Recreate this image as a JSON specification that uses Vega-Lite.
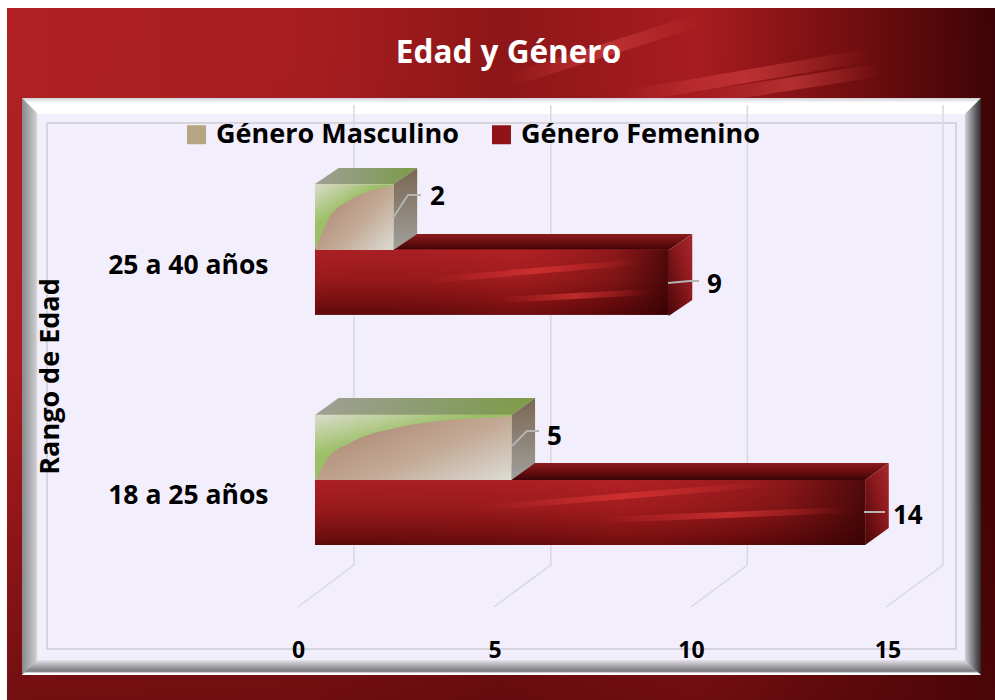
{
"$schema":"https://vega.github.io/schema/vega-lite/v6.json",
"width":995,"height":700,"padding":0,"autosize":{"type":"none"},
"background":"#ffffff",
"config":{"view":{"stroke":null},"font":"Open Sans"},
"title":{"text":"Edad y Género","font":"Open Sans","fontSize":31.5,"fontWeight":"bold","color":"#ffffff","anchor":"middle","offset":-94,"dx":11,"baseline":"alphabetic","zindex":1},
"datasets":{
"barras":[
{"rango":"25 a 40 años","genero":"Género Masculino","valor":2},
{"rango":"25 a 40 años","genero":"Género Femenino","valor":9},
{"rango":"18 a 25 años","genero":"Género Masculino","valor":5},
{"rango":"18 a 25 años","genero":"Género Femenino","valor":14}],
"rejilla":[
{"t":0,"x":0.99,"n":59.5,"o":1},{"t":0,"x":0.99,"n":13.5,"o":2},{"t":0,"x":-0.43,"n":9.3,"o":3},
{"t":5,"x":6.0,"n":59.5,"o":1},{"t":5,"x":6.0,"n":13.5,"o":2},{"t":5,"x":4.55,"n":9.3,"o":3},
{"t":10,"x":11.0,"n":59.5,"o":1},{"t":10,"x":11.0,"n":13.5,"o":2},{"t":10,"x":9.57,"n":9.3,"o":3},
{"t":15,"x":15.98,"n":59.5,"o":1},{"t":15,"x":15.98,"n":13.5,"o":2},{"t":15,"x":14.53,"n":9.3,"o":3}],
"techos":[
{"c":"m2","g":"m","x":0,"n":51.6,"n2":51.6},{"c":"m2","g":"m","x":0.6,"n":53.2,"n2":51.6},{"c":"m2","g":"m","x":2,"n":53.2,"n2":51.6},{"c":"m2","g":"m","x":2.6,"n":53.2,"n2":53.2},
{"c":"m5","g":"m","x":0,"n":28.5,"n2":28.5},{"c":"m5","g":"m","x":0.6,"n":30.2,"n2":28.5},{"c":"m5","g":"m","x":5,"n":30.2,"n2":28.5},{"c":"m5","g":"m","x":5.6,"n":30.2,"n2":30.2},
{"c":"f9","g":"f","x":0,"n":45,"n2":45},{"c":"f9","g":"f","x":0.6,"n":46.6,"n2":45},{"c":"f9","g":"f","x":9,"n":46.6,"n2":45},{"c":"f9","g":"f","x":9.6,"n":46.6,"n2":46.6},
{"c":"f14","g":"f","x":0,"n":22,"n2":22},{"c":"f14","g":"f","x":0.6,"n":23.7,"n2":22},{"c":"f14","g":"f","x":14,"n":23.7,"n2":22},{"c":"f14","g":"f","x":14.6,"n":23.7,"n2":23.7}],
"lados":[
{"c":"m2","g":"m","x":2,"n":51.6,"n2":45},{"c":"m2","g":"m","x":2.6,"n":53.2,"n2":46.6},
{"c":"m5","g":"m","x":5,"n":28.5,"n2":22},{"c":"m5","g":"m","x":5.6,"n":30.2,"n2":23.7},
{"c":"f9","g":"f","x":9,"n":45,"n2":38.4},{"c":"f9","g":"f","x":9.6,"n":46.6,"n2":40},
{"c":"f14","g":"f","x":14,"n":22,"n2":15.5},{"c":"f14","g":"f","x":14.6,"n":23.7,"n2":17.2}],
"curvas":[
{"c":"m2","x":0.025,"n":45.2,"n2":45},{"c":"m2","x":0.33,"n":48,"n2":45},{"c":"m2","x":0.89,"n":50,"n2":45},{"c":"m2","x":1.476,"n":51,"n2":45},{"c":"m2","x":2,"n":51.4,"n2":45},
{"c":"m5","x":0.05,"n":22.2,"n2":22},{"c":"m5","x":0.33,"n":24.2,"n2":22},{"c":"m5","x":0.89,"n":25.7,"n2":22},{"c":"m5","x":2.163,"n":27.3,"n2":22},{"c":"m5","x":3.435,"n":28,"n2":22},{"c":"m5","x":4.707,"n":28.3,"n2":22},{"c":"m5","x":5,"n":28.4,"n2":22}],
"guias":[
{"c":"2","o":1,"x":1.985,"n":48.2},{"c":"2","o":2,"x":2.366,"n":50.5},{"c":"2","o":3,"x":2.697,"n":50.5},
{"c":"9","o":1,"x":8.982,"n":41.7},{"c":"9","o":2,"x":9.542,"n":41.9},{"c":"9","o":3,"x":9.771,"n":41.9},
{"c":"5","o":1,"x":5.013,"n":25.4},{"c":"5","o":2,"x":5.394,"n":26.9},{"c":"5","o":3,"x":5.7,"n":26.9},
{"c":"14","o":1,"x":13.97,"n":18.8},{"c":"14","o":2,"x":14.504,"n":18.8}],
"etiquetas":[
{"t":"2","x":2.926,"n":50.3},{"t":"9","x":9.975,"n":41.5},{"t":"5","x":5.903,"n":26.3},{"t":"14","x":14.707,"n":18.4}]
},
"layer":[
{"data":{"values":[{"x":-7.837,"x2":17.303,"n":0,"n2":69.2}]},
 "mark":{"type":"rect","fill":{"gradient":"linear","x1":0,"y1":0,"x2":1,"y2":0,"stops":[{"offset":0,"color":"#b02022"},{"offset":0.3,"color":"#a81e20"},{"offset":0.5,"color":"#8e1618"},{"offset":0.7,"color":"#a81c20"},{"offset":0.88,"color":"#6a0c0e"},{"offset":1,"color":"#3c0406"}]}},
 "encoding":{"x":{"field":"x","type":"quantitative","scale":{"domain":[-8.015,17.303],"nice":false,"zero":false},"axis":{"values":[0,5,10,15],"labelOffset":-17,"labelFontSize":23,"labelFont":"Open Sans","labelFontWeight":"bold","labelColor":"#000000","ticks":false,"domain":false,"grid":false,"title":null,"offset":-50,"labelPadding":0,"labelBaseline":"middle","zindex":1}},"x2":{"field":"x2"},"y":{"field":"n","type":"quantitative","scale":{"domain":[0,70]},"axis":null},"y2":{"field":"n2"}}},
{"data":{"values":[{"x":-7.837,"x2":17.303,"n":0,"n2":69.2}]},
 "mark":{"type":"rect","fill":{"gradient":"linear","x1":0,"y1":0,"x2":0,"y2":1,"stops":[{"offset":0,"color":"rgba(90,0,0,0)"},{"offset":0.5,"color":"rgba(90,0,0,0.05)"},{"offset":1,"color":"rgba(80,6,8,0.65)"}]}},
 "encoding":{"x":{"field":"x","type":"quantitative"},"x2":{"field":"x2"},"y":{"field":"n","type":"quantitative","scale":{"domain":[0,70]},"axis":null},"y2":{"field":"n2"}}},
{"data":{"values":[{"x":7.761,"x2":14.122,"n":60.2,"n2":64.5},{"x":4.96,"x2":9.8,"n":62,"n2":68},{"x":9.8,"x2":14.38,"n":60.2,"n2":63}]},
 "mark":{"type":"rule","stroke":{"gradient":"linear","x1":0,"y1":0,"x2":1,"y2":0,"stops":[{"offset":0,"color":"rgba(232,80,80,0)"},{"offset":0.5,"color":"rgba(232,80,80,0.45)"},{"offset":1,"color":"rgba(232,80,80,0)"}]},"strokeWidth":13},
 "encoding":{"x":{"field":"x","type":"quantitative"},"x2":{"field":"x2"},"y":{"field":"n","type":"quantitative","scale":{"domain":[0,70]},"axis":null},"y2":{"field":"n2"}}},
{"data":{"values":[{"x":-7.455,"x2":16.947,"n":2.5,"n2":60.2}]},
 "mark":{"type":"rect","fill":{"gradient":"linear","x1":0,"y1":0,"x2":1,"y2":0,"stops":[{"offset":0,"color":"#88888e"},{"offset":0.014,"color":"#c8c8cc"},{"offset":0.017,"color":"#f4f2f8"},{"offset":0.98,"color":"#f4f2f8"},{"offset":0.99,"color":"#8a8a90"},{"offset":1,"color":"#2c2c2e"}]}},
 "encoding":{"x":{"field":"x","type":"quantitative"},"x2":{"field":"x2"},"y":{"field":"n","type":"quantitative","scale":{"domain":[0,70]},"axis":null},"y2":{"field":"n2"}}},
{"data":{"values":[{"x":-7.455,"n":60.2,"n2":60.2},{"x":-7.048,"n":60.2,"n2":58.6},{"x":16.539,"n":60.2,"n2":58.6},{"x":16.947,"n":60.2,"n2":60.2}]},
 "mark":{"type":"area","fill":{"gradient":"linear","x1":0,"y1":0,"x2":0,"y2":1,"stops":[{"offset":0,"color":"#cfcfd6"},{"offset":0.3,"color":"#ffffff"},{"offset":1,"color":"#ffffff"}]}},
 "encoding":{"x":{"field":"x","type":"quantitative"},"y":{"field":"n","type":"quantitative","scale":{"domain":[0,70]},"axis":null},"y2":{"field":"n2"}}},
{"data":{"values":[{"x":-7.455,"n":2.5,"n2":2.5},{"x":-7.048,"n":2.5,"n2":4},{"x":16.539,"n":2.5,"n2":4},{"x":16.947,"n":2.5,"n2":2.5}]},
 "mark":{"type":"area","fill":{"gradient":"linear","x1":0,"y1":0,"x2":0,"y2":1,"stops":[{"offset":0,"color":"#e6e4ea"},{"offset":0.4,"color":"#a6a6ac"},{"offset":0.75,"color":"#77777c"},{"offset":0.88,"color":"#ffffff"},{"offset":1,"color":"#ffffff"}]}},
 "encoding":{"x":{"field":"x","type":"quantitative"},"y":{"field":"n","type":"quantitative","scale":{"domain":[0,70]},"axis":null},"y2":{"field":"n2"}}},
{"data":{"values":[{"x":-7.048,"x2":16.539,"n":4,"n2":58.6}]},
 "mark":{"type":"rect","fill":"#f3eefb"},
 "encoding":{"x":{"field":"x","type":"quantitative"},"x2":{"field":"x2"},"y":{"field":"n","type":"quantitative","scale":{"domain":[0,70]},"axis":null},"y2":{"field":"n2"}}},
{"data":{"values":[{"x":-6.819,"x2":16.31,"n":5.1,"n2":57.7}]},
 "mark":{"type":"rect","fill":"transparent","stroke":"#cdcdd2","strokeWidth":1.5},
 "encoding":{"x":{"field":"x","type":"quantitative"},"x2":{"field":"x2"},"y":{"field":"n","type":"quantitative","scale":{"domain":[0,70]},"axis":null},"y2":{"field":"n2"}}},
{"data":{"name":"rejilla"},
 "mark":{"type":"line","color":"#d9d9db","strokeWidth":1.5},
 "encoding":{"x":{"field":"x","type":"quantitative"},"y":{"field":"n","type":"quantitative","scale":{"domain":[0,70]},"axis":null},"detail":{"field":"t"},"order":{"field":"o"}}},
{"data":{"name":"techos"},"transform":[{"filter":"datum.g==='f'"}],
 "mark":{"type":"area","fill":{"gradient":"linear","x1":0,"y1":0,"x2":0,"y2":1,"stops":[{"offset":0,"color":"#8a1a1e"},{"offset":0.5,"color":"#6a0e10"},{"offset":1,"color":"#3a0406"}]}},
 "encoding":{"x":{"field":"x","type":"quantitative"},"y":{"field":"n","type":"quantitative","scale":{"domain":[0,70]},"axis":null},"y2":{"field":"n2"},"detail":{"field":"c"}}},
{"data":{"name":"lados"},"transform":[{"filter":"datum.g==='f'"}],
 "mark":{"type":"area","fill":{"gradient":"linear","x1":0,"y1":1,"x2":1,"y2":0,"stops":[{"offset":0,"color":"#4a0608"},{"offset":0.6,"color":"#8e1a1e"},{"offset":1,"color":"#a8282c"}]}},
 "encoding":{"x":{"field":"x","type":"quantitative"},"y":{"field":"n","type":"quantitative","scale":{"domain":[0,70]},"axis":null},"y2":{"field":"n2"},"detail":{"field":"c"}}},
{"data":{"name":"techos"},"transform":[{"filter":"datum.g==='m'"}],
 "mark":{"type":"area","fill":{"gradient":"linear","x1":0,"y1":0,"x2":1,"y2":0,"stops":[{"offset":0,"color":"#a0a094"},{"offset":0.5,"color":"#8c9c70"},{"offset":1,"color":"#7c9c46"}]}},
 "encoding":{"x":{"field":"x","type":"quantitative"},"y":{"field":"n","type":"quantitative","scale":{"domain":[0,70]},"axis":null},"y2":{"field":"n2"},"detail":{"field":"c"}}},
{"data":{"name":"lados"},"transform":[{"filter":"datum.g==='m'"}],
 "mark":{"type":"area","fill":{"gradient":"linear","x1":0,"y1":0,"x2":0,"y2":1,"stops":[{"offset":0,"color":"#7a6652"},{"offset":1,"color":"#a0a09c"}]}},
 "encoding":{"x":{"field":"x","type":"quantitative"},"y":{"field":"n","type":"quantitative","scale":{"domain":[0,70]},"axis":null},"y2":{"field":"n2"},"detail":{"field":"c"}}},
{"data":{"name":"barras"},
 "mark":{"type":"bar"},
 "encoding":{
  "x":{"field":"valor","type":"quantitative"},
  "y":{"field":"rango","type":"nominal","scale":{"domain":["25 a 40 años","18 a 25 años"],"range":[184.5,545],"paddingInner":0.4348,"paddingOuter":0},
   "axis":{"title":"Rango de Edad","titleFont":"Open Sans","titleFontSize":27,"titleFontWeight":"bold","titleColor":"#000000","titleX":-209,"titleY":376,"labelFont":"Open Sans","labelFontSize":26.5,"labelFontWeight":"bold","labelColor":"#000000","labelOffset":16,"labelPadding":5,"labelLimit":300,"ticks":false,"domain":false,"grid":false,"offset":-273,"zindex":1}},
  "yOffset":{"field":"genero","type":"nominal","scale":{"domain":["Género Masculino","Género Femenino"],"paddingInner":0,"paddingOuter":0}},
  "color":{"field":"genero","type":"nominal","scale":{"domain":["Género Masculino","Género Femenino"],"range":["#b4a680","#8e1418"]},
   "legend":{"orient":"none","legendX":183,"legendY":121,"direction":"horizontal","title":null,"symbolType":"square","symbolSize":361,"symbolStrokeWidth":0,"labelFont":"Open Sans","labelFontSize":27,"labelFontWeight":"bold","labelColor":"#000000","labelOffset":6,"labelLimit":400,"columnPadding":29,"symbolOpacity":1}}}},
{"data":{"name":"barras"},"transform":[{"filter":"datum.genero==='Género Masculino'"}],
 "mark":{"type":"bar","fill":{"gradient":"linear","x1":0,"y1":0,"x2":0.6,"y2":0.8,"stops":[{"offset":0,"color":"#dcdccc"},{"offset":0.5,"color":"#9cc068"},{"offset":1,"color":"#9cc068"}]}},
 "encoding":{
  "x":{"field":"valor","type":"quantitative"},
  "y":{"field":"rango","type":"nominal","scale":{"domain":["25 a 40 años","18 a 25 años"],"range":[184.5,545],"paddingInner":0.4348,"paddingOuter":0},"axis":null},
  "yOffset":{"field":"genero","type":"nominal","scale":{"domain":["Género Masculino","Género Femenino"],"paddingInner":0,"paddingOuter":0}}}},
{"data":{"name":"barras"},"transform":[{"filter":"datum.genero==='Género Femenino'"}],
 "mark":{"type":"bar","fill":{"gradient":"linear","x1":0,"y1":0,"x2":0,"y2":1,"stops":[{"offset":0,"color":"#ac2024"},{"offset":0.45,"color":"#981a1c"},{"offset":0.85,"color":"#720e10"},{"offset":1,"color":"#5e0a0c"}]}},
 "encoding":{
  "x":{"field":"valor","type":"quantitative"},
  "y":{"field":"rango","type":"nominal","scale":{"domain":["25 a 40 años","18 a 25 años"],"range":[184.5,545],"paddingInner":0.4348,"paddingOuter":0},"axis":null},
  "yOffset":{"field":"genero","type":"nominal","scale":{"domain":["Género Masculino","Género Femenino"],"paddingInner":0,"paddingOuter":0}}}},
{"data":{"name":"barras"},"transform":[{"filter":"datum.genero==='Género Femenino'"}],
 "mark":{"type":"bar","fill":{"gradient":"linear","x1":0,"y1":0,"x2":1,"y2":0,"stops":[{"offset":0,"color":"rgba(60,0,0,0)"},{"offset":0.55,"color":"rgba(220,40,40,0.12)"},{"offset":0.85,"color":"rgba(50,0,0,0.25)"},{"offset":1,"color":"rgba(40,0,0,0.7)"}]}},
 "encoding":{
  "x":{"field":"valor","type":"quantitative"},
  "y":{"field":"rango","type":"nominal","scale":{"domain":["25 a 40 años","18 a 25 años"],"range":[184.5,545],"paddingInner":0.4348,"paddingOuter":0},"axis":null},
  "yOffset":{"field":"genero","type":"nominal","scale":{"domain":["Género Masculino","Género Femenino"],"paddingInner":0,"paddingOuter":0}}}},
{"data":{"values":[{"x":2.93,"x2":8.27,"n":42,"n2":43.8},{"x":4.2,"x2":11.58,"n":19.2,"n2":21.6},{"x":7.25,"x2":13.6,"n":18,"n2":19},{"x":4.7,"x2":8.52,"n":40,"n2":40.8}]},
 "mark":{"type":"rule","stroke":{"gradient":"linear","x1":0,"y1":0,"x2":1,"y2":0,"stops":[{"offset":0,"color":"rgba(232,58,58,0)"},{"offset":0.5,"color":"rgba(232,58,58,0.6)"},{"offset":1,"color":"rgba(232,58,58,0)"}]},"strokeWidth":6},
 "encoding":{"x":{"field":"x","type":"quantitative"},"x2":{"field":"x2"},"y":{"field":"n","type":"quantitative","scale":{"domain":[0,70]},"axis":null},"y2":{"field":"n2"}}},
{"data":{"name":"curvas"},
 "mark":{"type":"area","interpolate":"monotone","fill":{"gradient":"linear","x1":0,"y1":0.2,"x2":1,"y2":1,"stops":[{"offset":0,"color":"#ac8570"},{"offset":0.55,"color":"#c4ab97"},{"offset":1,"color":"#dcdcd6"}]}},
 "encoding":{"x":{"field":"x","type":"quantitative"},"y":{"field":"n","type":"quantitative","scale":{"domain":[0,70]},"axis":null},"y2":{"field":"n2"},"detail":{"field":"c"}}},
{"data":{"name":"guias"},
 "mark":{"type":"line","color":"#b4b4b4","strokeWidth":2},
 "encoding":{"x":{"field":"x","type":"quantitative"},"y":{"field":"n","type":"quantitative","scale":{"domain":[0,70]},"axis":null},"detail":{"field":"c"},"order":{"field":"o"}}},
{"data":{"name":"etiquetas"},
 "mark":{"type":"text","font":"Open Sans","fontSize":26,"fontWeight":"bold","color":"#000000","align":"left","baseline":"middle"},
 "encoding":{"x":{"field":"x","type":"quantitative"},"y":{"field":"n","type":"quantitative","scale":{"domain":[0,70]},"axis":null},"text":{"field":"t"}}}
],
"resolve":{"scale":{"y":"independent","yOffset":"independent"},"axis":{"y":"independent"}}
}
